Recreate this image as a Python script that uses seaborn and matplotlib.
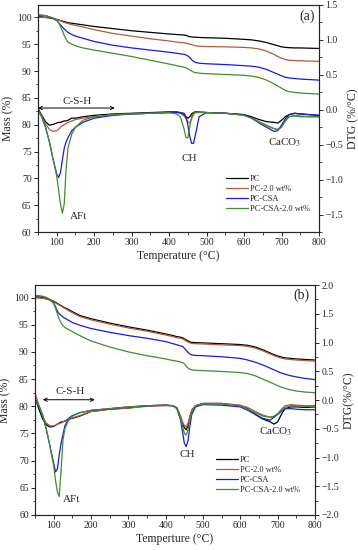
import numpy as np
import seaborn as sns
import matplotlib.pyplot as plt

# temperature grid (degC), shared by every curve
temps = [50, 60, 70, 80, 90, 100, 105, 110, 115, 120, 125, 130, 140, 150, 170, 200,
         250, 300, 350, 400, 420, 430, 440, 445, 450, 455, 460, 465, 470, 480, 500,
         550, 600, 620, 640, 660, 680, 690, 700, 710, 720, 735, 750, 775, 800]

labels = ['PC', 'PC-2.0 wt%', 'PC-CSA', 'PC-CSA-2.0 wt%']

# ---- panel (a): mass (%) ----
tg_a_pc = [100.1, 100.1, 100.0, 99.9, 99.8, 99.6, 99.5, 99.4, 99.3, 99.2, 99.1, 99.0, 98.9, 98.8, 98.6, 98.3,
           97.9, 97.5, 97.2, 96.9, 96.8, 96.75, 96.7, 96.65, 96.5, 96.4, 96.35, 96.3, 96.3, 96.25, 96.2,
           96.1, 95.9, 95.8, 95.6, 95.3, 94.9, 94.7, 94.5, 94.4, 94.35, 94.3, 94.3, 94.25, 94.2]
tg_a_pc2 = [100.0, 100.0, 99.95, 99.9, 99.8, 99.6, 99.5, 99.35, 99.2, 99.05, 98.95, 98.85, 98.65, 98.5, 98.2, 97.7,
            97.0, 96.5, 96.0, 95.6, 95.4, 95.3, 95.25, 95.2, 95.1, 95.0, 94.9, 94.8, 94.7, 94.6, 94.55,
            94.5, 94.4, 94.3, 94.1, 93.7, 93.1, 92.7, 92.4, 92.15, 92.0, 91.95, 91.9, 91.85, 91.8]
tg_a_csa = [100.4, 100.4, 100.3, 100.1, 99.8, 99.4, 99.0, 98.6, 98.2, 97.8, 97.5, 97.2, 96.8, 96.5, 96.1, 95.5,
            94.8, 94.3, 93.9, 93.5, 93.3, 93.2, 93.1, 93.0, 92.8, 92.5, 92.1, 91.8, 91.6, 91.45, 91.35,
            91.2, 91.0, 90.9, 90.7, 90.3, 89.7, 89.4, 89.1, 88.85, 88.7, 88.6, 88.5, 88.4, 88.3]
tg_a_csa2 = [100.4, 100.4, 100.3, 100.1, 99.9, 99.5, 99.0, 98.3, 97.5, 96.6, 95.9, 95.4, 95.0, 94.7, 94.3, 93.9,
             93.3, 92.7, 92.0, 91.3, 91.0, 90.85, 90.7, 90.6, 90.4, 90.2, 90.0, 89.8, 89.7, 89.6, 89.5,
             89.35, 89.2, 89.05, 88.8, 88.3, 87.6, 87.2, 86.8, 86.4, 86.15, 86.0, 85.9, 85.8, 85.7]

# ---- panel (a): DTG (%/degC) ----
dtg_a_pc = [0.02, -0.08, -0.17, -0.22, -0.21, -0.19, -0.18, -0.18, -0.17, -0.16, -0.16, -0.15, -0.12, -0.12, -0.1, -0.08,
            -0.06, -0.05, -0.04, -0.03, -0.03, -0.04, -0.07, -0.1, -0.12, -0.1, -0.06, -0.04, -0.03, -0.03, -0.04,
            -0.05, -0.07, -0.1, -0.14, -0.17, -0.18, -0.19, -0.15, -0.1, -0.07, -0.05, -0.06, -0.07, -0.08]
dtg_a_pc2 = [0.0, -0.1, -0.2, -0.28, -0.31, -0.3, -0.28, -0.25, -0.23, -0.21, -0.2, -0.18, -0.16, -0.14, -0.12, -0.1,
             -0.07, -0.06, -0.05, -0.04, -0.04, -0.05, -0.09, -0.13, -0.17, -0.19, -0.13, -0.07, -0.04, -0.03, -0.04,
             -0.05, -0.08, -0.12, -0.17, -0.22, -0.27, -0.28, -0.24, -0.16, -0.1, -0.08, -0.09, -0.1, -0.1]
dtg_a_csa = [0.0, -0.1, -0.25, -0.45, -0.7, -0.92, -0.97, -0.9, -0.72, -0.55, -0.46, -0.4, -0.3, -0.25, -0.18, -0.12,
             -0.08, -0.06, -0.05, -0.04, -0.04, -0.04, -0.05, -0.1, -0.22, -0.38, -0.48, -0.48, -0.36, -0.1, -0.04,
             -0.05, -0.07, -0.12, -0.19, -0.25, -0.31, -0.3, -0.22, -0.13, -0.07, -0.05, -0.06, -0.07, -0.08]
dtg_a_csa2 = [0.0, -0.1, -0.25, -0.45, -0.7, -0.95, -1.15, -1.35, -1.48, -1.35, -0.85, -0.55, -0.35, -0.25, -0.15, -0.1,
              -0.07, -0.06, -0.05, -0.04, -0.06, -0.1, -0.28, -0.4, -0.4, -0.25, -0.1, -0.05, -0.04, -0.04, -0.04,
              -0.05, -0.08, -0.12, -0.18, -0.23, -0.27, -0.29, -0.25, -0.16, -0.1, -0.09, -0.1, -0.1, -0.1]

# ---- panel (b): mass (%) ----
tg_b_pc = [100.1, 100.1, 100.0, 99.8, 99.6, 99.3, 99.1, 98.9, 98.7, 98.5, 98.3, 98.1, 97.8, 97.4, 96.7, 96.1,
           95.3, 94.6, 94.0, 93.3, 93.0, 92.8, 92.7, 92.6, 92.4, 92.2, 92.0, 91.85, 91.75, 91.7, 91.65,
           91.5, 91.35, 91.2, 90.9, 90.4, 89.8, 89.5, 89.25, 89.05, 88.9, 88.8, 88.7, 88.6, 88.5]
tg_b_pc2 = [99.9, 99.9, 99.85, 99.7, 99.5, 99.2, 99.0, 98.8, 98.6, 98.4, 98.2, 98.0, 97.6, 97.2, 96.5, 95.9,
            95.1, 94.4, 93.8, 93.1, 92.8, 92.6, 92.5, 92.4, 92.2, 92.0, 91.8, 91.65, 91.55, 91.5, 91.45,
            91.3, 91.15, 91.0, 90.7, 90.2, 89.6, 89.3, 89.05, 88.85, 88.7, 88.6, 88.5, 88.4, 88.3]
tg_b_csa = [100.3, 100.3, 100.2, 100.0, 99.6, 99.0, 98.3, 97.5, 97.0, 96.7, 96.4, 96.2, 95.8, 95.4, 94.9, 94.3,
            93.6, 93.0, 92.5, 91.9, 91.5, 91.3, 91.1, 91.0, 90.7, 90.3, 89.9, 89.6, 89.45, 89.35, 89.3,
            89.1, 88.8, 88.5, 88.1, 87.6, 87.0, 86.7, 86.4, 86.1, 85.9, 85.6, 85.4, 85.1, 84.9]
tg_b_csa2 = [100.3, 100.3, 100.2, 100.0, 99.6, 98.9, 98.0, 97.0, 96.0, 95.3, 94.8, 94.5, 94.1, 93.7, 93.0, 92.0,
             90.9, 90.0, 89.3, 88.7, 88.4, 88.3, 88.15, 88.05, 87.8, 87.4, 87.0, 86.8, 86.7, 86.6, 86.55,
             86.4, 86.2, 86.0, 85.6, 85.0, 84.4, 84.1, 83.8, 83.5, 83.3, 83.0, 82.8, 82.6, 82.5]

# ---- panel (b): DTG (%/degC) ----
dtg_b_pc = [0.05, -0.15, -0.32, -0.43, -0.47, -0.46, -0.44, -0.42, -0.4, -0.38, -0.38, -0.37, -0.33, -0.32, -0.28, -0.2,
            -0.16, -0.14, -0.1, -0.09, -0.1, -0.14, -0.3, -0.4, -0.48, -0.52, -0.45, -0.3, -0.18, -0.1, -0.06,
            -0.06, -0.1, -0.15, -0.25, -0.33, -0.38, -0.42, -0.38, -0.25, -0.15, -0.12, -0.12, -0.13, -0.12]
dtg_b_pc2 = [0.12, -0.08, -0.28, -0.4, -0.45, -0.45, -0.44, -0.42, -0.41, -0.4, -0.38, -0.36, -0.34, -0.31, -0.27, -0.2,
             -0.16, -0.14, -0.11, -0.1, -0.1, -0.13, -0.28, -0.38, -0.44, -0.47, -0.4, -0.28, -0.17, -0.1, -0.06,
             -0.06, -0.09, -0.13, -0.2, -0.26, -0.3, -0.29, -0.24, -0.16, -0.1, -0.08, -0.09, -0.1, -0.1]
dtg_b_csa = [0.0, -0.1, -0.25, -0.5, -0.8, -1.1, -1.25, -1.2, -0.95, -0.75, -0.6, -0.45, -0.32, -0.27, -0.22, -0.18,
             -0.15, -0.12, -0.1, -0.09, -0.1, -0.15, -0.35, -0.55, -0.75, -0.81, -0.7, -0.45, -0.25, -0.12, -0.08,
             -0.09, -0.12, -0.18, -0.25, -0.32, -0.35, -0.3, -0.25, -0.2, -0.15, -0.15, -0.16, -0.17, -0.17]
dtg_b_csa2 = [0.0, -0.1, -0.25, -0.5, -0.8, -1.15, -1.4, -1.6, -1.68, -1.2, -0.7, -0.5, -0.35, -0.28, -0.22, -0.18,
              -0.15, -0.12, -0.1, -0.09, -0.1, -0.14, -0.32, -0.45, -0.58, -0.61, -0.52, -0.35, -0.2, -0.1, -0.07,
              -0.07, -0.1, -0.16, -0.22, -0.28, -0.3, -0.28, -0.24, -0.18, -0.13, -0.1, -0.1, -0.11, -0.1]

colors = ['#000000', '#b5593a', '#1a1adb', '#3f8f2f']

###################################################################################################

sns.set_style("ticks")
plt.rcParams['font.family'] = ['Liberation Serif', 'DejaVu Serif']
plt.rcParams['mathtext.fontset'] = 'stix'
plt.rcParams['axes.linewidth'] = 0.8
plt.rcParams['xtick.direction'] = 'out'
plt.rcParams['ytick.direction'] = 'out'


def draw_panel(ax, tg, dtg, ylim2, xlabel, ylabel2, tag, notes, csh, leg_xy):
    """Draws one TG / DTG panel."""
    ax2 = ax.twinx()
    for vals, col in zip(tg, colors):
        sns.lineplot(x=temps, y=vals, ax=ax, color=col, lw=0.9, legend=False)
    for vals, col, lab in zip(dtg, colors, labels):
        sns.lineplot(x=temps, y=vals, ax=ax2, color=col, lw=0.9, label=lab)

    ax.set_xlim(50, 800)
    ax.set_ylim(60, 102.3)
    ax.set_xticks(np.arange(100, 801, 100))
    ax.set_xticks(np.arange(50, 801, 50), minor=True)
    ax.set_yticks(np.arange(60, 101, 5))
    ax.set_yticks(np.arange(60, 101, 2.5), minor=True)
    ax2.set_ylim(*ylim2)
    ax2.set_yticks(np.arange(np.ceil(ylim2[0] * 2) / 2, ylim2[1] + 0.01, 0.5))
    ax2.set_yticks(np.arange(ylim2[0], ylim2[1] + 0.01, 0.25), minor=True)
    ax2.yaxis.set_major_formatter(plt.FuncFormatter(lambda v, p: f"{v:.1f}".replace('-', '\u2212')))

    for a in (ax, ax2):
        a.tick_params(labelsize=7, length=3, width=0.7, pad=1.5)
        a.tick_params(which='minor', length=1.8, width=0.6)
    ax.set_xlabel(xlabel, fontsize=8.5, labelpad=2)
    ax.set_ylabel('Mass (%)', fontsize=8.5, labelpad=2)
    ax2.set_ylabel(ylabel2, fontsize=8.5, labelpad=3)

    ax.text(tag[0], tag[1], tag[2], fontsize=10, ha='center', va='center')
    for x, y, s in notes:
        ax.text(x, y, s, fontsize=8, ha='center', va='center')
    ax.annotate('', xy=(csh[1], csh[2]), xytext=(csh[0], csh[2]),
                arrowprops=dict(arrowstyle='<->', lw=0.7, color='black',
                                shrinkA=0, shrinkB=0, mutation_scale=6))

    ax2.legend(loc='upper left', bbox_to_anchor=leg_xy, bbox_transform=ax.figure.transFigure,
               frameon=False, fontsize=6, handlelength=2.6, handletextpad=0.3,
               labelspacing=0.25, borderpad=0, borderaxespad=0)


fig = plt.figure(figsize=(3.58, 5.5), dpi=100)
ax_a = fig.add_axes([38 / 358, 1 - 232 / 550, 281 / 358, 227 / 550])
ax_b = fig.add_axes([35 / 358, 1 - 515 / 550, 280 / 358, 230 / 550])

draw_panel(ax_a, [tg_a_pc, tg_a_pc2, tg_a_csa, tg_a_csa2],
           [dtg_a_pc, dtg_a_pc2, dtg_a_csa, dtg_a_csa2],
           (-1.75, 1.5), 'Temperature (\u00b0C)', 'DTG (%/\u00b0C)', (767, 100.2, '(a)'),
           [(154, 84.4, 'C-S-H'), (157, 62.8, 'AFt'), (455, 73.7, 'CH'), (709, 76.7, 'CaCO$_3$')],
           (50, 255, 83.1), (226 / 358, 1 - 175 / 550))

draw_panel(ax_b, [tg_b_pc, tg_b_pc2, tg_b_csa, tg_b_csa2],
           [dtg_b_pc, dtg_b_pc2, dtg_b_csa, dtg_b_csa2],
           (-2.0, 2.0), 'Temperture (\u00b0C)', 'DTG(%/\u00b0C)', (763, 100.4, '(b)'),
           [(143, 82.7, 'C-S-H'), (149, 62.8, 'AFt'), (458, 71.1, 'CH'), (696, 75.3, 'CaCO$_3$')],
           (71, 210, 81.2), (216 / 358, 1 - 456 / 550))

fig.savefig('out.png', dpi=100)
